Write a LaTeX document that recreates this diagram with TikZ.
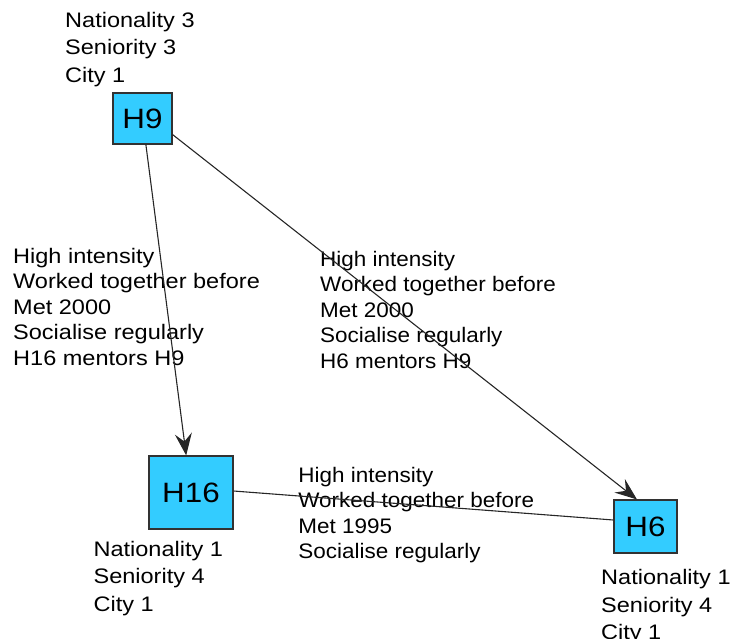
\documentclass[tikz,border=0pt]{standalone}
\usepackage{fontspec}
\setmainfont{Liberation Sans}[FakeStretch=1.12]
\newfontfamily\narrowfont{Liberation Sans}[FakeStretch=1.07]
\usetikzlibrary{arrows.meta,calc}
\definecolor{boxfill}{RGB}{51,204,255}
\definecolor{boxline}{RGB}{50,50,50}
\tikzset{
  hnode/.style={draw=boxline, line width=1.1pt, fill=boxfill, inner sep=0pt,
    font=\fontsize{28}{30}\selectfont},
  nlabel/.style={anchor=north west, inner sep=0pt, align=left,
    font=\fontsize{21}{27.5}\selectfont},
  elabel/.style={anchor=north west, inner sep=0pt, align=left,
    font=\fontsize{21}{25.5}\selectfont},
  nelabel/.style={elabel, font=\narrowfont\fontsize{21}{25.5}\selectfont},
  edge/.style={draw=black!85, line width=1.1pt},
  arr/.style={edge, ->, >={Stealth[length=22pt,width=17pt,inset=8pt]}}
}
\begin{document}
\begin{tikzpicture}[x=1pt,y=-1pt]
\useasboundingbox (0,0) rectangle (734,638);
% labels (drawn first so the lines go over them)
\node[nlabel] (l9) at (65,12) {Nationality 3\\Seniority 3\\City 1};
\node[elabel] (e1) at (13,247.7) {High intensity\\Worked together before\\Met 2000\\Socialise regularly\\H16 mentors H9};
\node[nelabel] (e2) at (320,251) {High intensity\\Worked together before\\Met 2000\\Socialise regularly\\H6 mentors H9};
\node[nelabel] (e3) at (298.2,466.7) {High intensity\\Worked together before\\Met 1995\\Socialise regularly};
\node[nlabel] (l16) at (93.4,541) {Nationality 1\\Seniority 4\\City 1};
\node[nlabel] (l6) at (601,569.3) {Nationality 1\\Seniority 4\\City 1};
% nodes
\node[hnode, minimum width=59pt, minimum height=51pt] (H9) at (142.5,118.5) {H9};
\node[hnode, minimum width=84pt, minimum height=73pt] (H16) at (191,492.5) {H16};
\node[hnode, minimum width=63pt, minimum height=53pt] (H6) at (645.5,526.5) {H6};
% connectors
\draw[arr] (H9) -- (H16);
\draw[arr] ($(H9.south east)+(0,-10)$) -- ($(H6.north)+(-8.5,0)$);
\draw[edge] ($(H16.east)+(0,-1.5)$) -- ($(H6.west)+(0,-6.5)$);
\end{tikzpicture}
\end{document}
